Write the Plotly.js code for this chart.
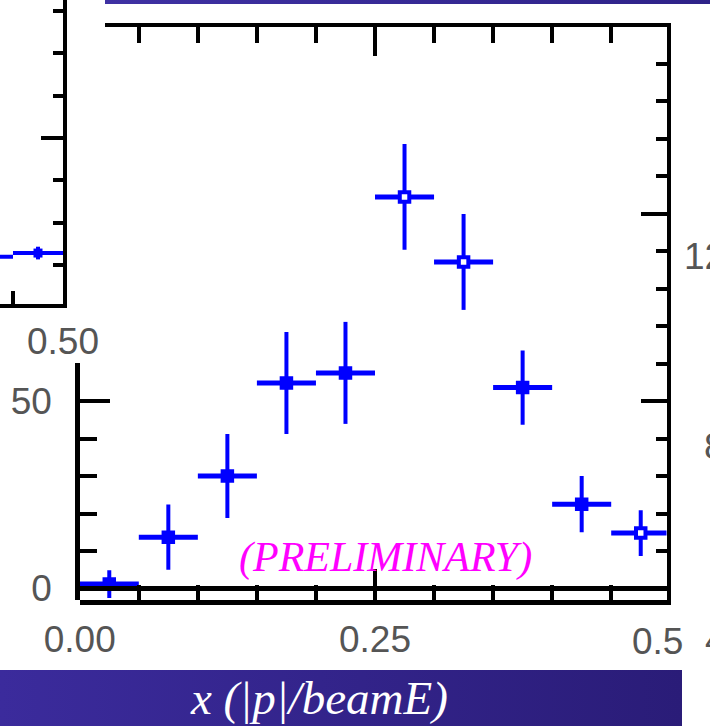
<!DOCTYPE html>
<html>
<head>
<meta charset="utf-8">
<script src="https://cdn.plot.ly/plotly-3.0.1.min.js"></script>
<style>html,body{margin:0;padding:0;background:#fff;}#chart{width:710px;height:726px;}</style>
</head>
<body>
<div id="chart"></div>
<script>
// ---- data ----
const binCenters   = [0.025, 0.075, 0.125, 0.175, 0.225, 0.275, 0.325, 0.375, 0.425, 0.475];
const binHalfWidth = 0.025;
const counts       = [1.2, 13.7, 30.0, 54.8, 57.5, 104.4, 87.1, 53.6, 22.5, 14.8];
const countErrors  = [3.7, 8.7, 11.2, 13.6, 13.6, 14.1, 12.8, 9.9, 7.5, 6.1];
const openMarkers  = [false, false, false, false, false, true, true, false, false, true];

// partial neighbouring panel (top-left)
const insetCenters = [0.425, 0.475];
const insetValues  = [71.9, 72.8];
const insetErrors  = [1.5, 1.5];

// tick labels
const xTickLabels      = ['0.00', '0.25', '0.5'];   // last one is half hidden in the source
const yTickValues      = [0, 50];
const yTickLabels      = ['0', '50'];
const insetTickLabel   = '0.50';
const rightPanelLabels = ['12', '8', '4'];

const xTitle = 'x (|p|/beamE)';
const stamp  = '(PRELIMINARY)';

// ---- styling helpers ----
const W = 710, H = 726;
const px = v => v / W;           // horizontal pixel -> paper
const py = v => (H - v) / H;     // vertical pixel (from top) -> paper
const BLUE = '#0000ff';
const tickFont = {family: 'Liberation Sans, Arial, sans-serif', size: 37, color: '#555'};

const traces = [
  {
    type: 'scatter', mode: 'markers', xaxis: 'x', yaxis: 'y',
    x: binCenters, y: counts,
    error_y: {type: 'data', array: countErrors, visible: true, color: BLUE, thickness: 4, width: 0},
    error_x: {type: 'constant', value: binHalfWidth, visible: true, color: BLUE, thickness: 5, width: 0},
    marker: {
      symbol: 'square', size: 9.5,
      color: openMarkers.map(o => o ? '#ffffff' : BLUE),
      line: {color: BLUE, width: 4}
    },
    hoverinfo: 'skip'
  },
  {
    type: 'scatter', mode: 'markers', xaxis: 'x2', yaxis: 'y2',
    x: insetCenters, y: insetValues,
    error_y: {type: 'data', array: insetErrors, visible: true, color: BLUE, thickness: 4, width: 0},
    error_x: {type: 'constant', value: binHalfWidth, visible: true, color: BLUE, thickness: 4, width: 0},
    marker: {symbol: 'square', size: 9, color: BLUE, line: {color: BLUE, width: 0}},
    hoverinfo: 'skip'
  },
  {type: 'scatter', mode: 'markers', x: [], y: [], xaxis: 'x3', yaxis: 'y', hoverinfo: 'skip'},
  {type: 'scatter', mode: 'markers', x: [], y: [], xaxis: 'x', yaxis: 'y3', hoverinfo: 'skip'}
];

const xLeft = 79.75, xRight = 666.5, pxPerX = 1181;
const yBottom = 600, yTop = 27, yZero = 588.5, pxPerY = 3.75;

const gradient = (c1, c2) => 'data:image/svg+xml;charset=utf-8,' + encodeURIComponent(
  '<svg xmlns="http://www.w3.org/2000/svg" width="100" height="10" viewBox="0 0 100 10" preserveAspectRatio="none">' +
  '<defs><linearGradient id="g" x1="0" x2="1" y1="0" y2="0"><stop offset="0" stop-color="' + c1 + '"/>' +
  '<stop offset="1" stop-color="' + c2 + '"/></linearGradient></defs><rect width="100" height="10" fill="url(#g)"/></svg>');

const layout = {
  width: W, height: H,
  margin: {l: 0, r: 0, t: 0, b: 0},
  paper_bgcolor: '#ffffff', plot_bgcolor: 'rgba(0,0,0,0)',
  showlegend: false,
  xaxis: {
    domain: [px(xLeft), px(xRight)], anchor: 'y', side: 'bottom',
    range: [0, (xRight - xLeft) / pxPerX],
    showline: true, linecolor: '#000', linewidth: 5, mirror: false,
    showgrid: false, zeroline: false,
    ticks: 'inside', tickcolor: '#000', tickwidth: 4, ticklen: 31,
    tickmode: 'array', tickvals: [0, 0.25], ticktext: xTickLabels.slice(0, 2),
    minor: {ticks: 'inside', dtick: 0.05, tick0: 0, ticklen: 15, tickwidth: 4, tickcolor: '#000', showgrid: false},
    tickfont: tickFont, ticklabelstandoff: 3
  },
  xaxis3: {
    domain: [px(105), px(xRight)], anchor: 'y', side: 'top',
    range: [(105 - xLeft) / pxPerX, (xRight - xLeft) / pxPerX],
    showline: true, linecolor: '#000', linewidth: 4,
    showgrid: false, zeroline: false, showticklabels: false,
    ticks: 'inside', tickcolor: '#000', tickwidth: 4, ticklen: 29, tick0: 0, dtick: 0.25,
    minor: {ticks: 'inside', dtick: 0.05, ticklen: 16, tickwidth: 4, tickcolor: '#000', showgrid: false}
  },
  yaxis: {
    domain: [py(yBottom), py(yTop)], anchor: 'x', side: 'right',
    range: [(yZero - yBottom) / pxPerY, (yZero - yTop) / pxPerY],
    showline: true, linecolor: '#000', linewidth: 4,
    showgrid: false, showticklabels: false,
    zeroline: true, zerolinecolor: '#000', zerolinewidth: 5,
    zerolinelayer: 'above traces',
    ticks: 'inside', tickcolor: '#000', tickwidth: 4, ticklen: 26, tick0: 0, dtick: 50,
    minor: {ticks: 'inside', dtick: 10, ticklen: 11, tickwidth: 4, tickcolor: '#000', showgrid: false}
  },
  yaxis3: {
    domain: [py(yBottom), py(363)], anchor: 'x', side: 'left',
    range: [(yZero - yBottom) / pxPerY, (yZero - 363) / pxPerY],
    showline: true, linecolor: '#000', linewidth: 4.5,
    showgrid: false, zeroline: false,
    ticks: 'inside', tickcolor: '#000', tickwidth: 4, ticklen: 30,
    tickmode: 'array', tickvals: yTickValues, ticktext: yTickLabels,
    minor: {ticks: 'inside', dtick: 10, ticklen: 17, tickwidth: 4, tickcolor: '#000', showgrid: false},
    tickfont: tickFont, ticklabelstandoff: 16
  },
  xaxis2: {
    domain: [0, px(63)], anchor: 'y2', side: 'bottom',
    range: [0.5 - 63 / 1000, 0.5],
    showline: true, linecolor: '#000', linewidth: 4,
    showgrid: false, zeroline: false,
    ticks: 'inside', tickcolor: '#000', tickwidth: 4, ticklen: 13,
    tickmode: 'array', tickvals: [0.45, 0.5], ticktext: ['', insetTickLabel],
    tickfont: tickFont, ticklabelstandoff: 2
  },
  yaxis2: {
    domain: [py(304), 1], anchor: 'x2', side: 'right',
    range: [100 - (304 - 138) / 4.23, 100 + 138 / 4.23],
    showline: true, linecolor: '#000', linewidth: 4,
    showgrid: false, zeroline: false, showticklabels: false,
    ticks: 'inside', tickcolor: '#000', tickwidth: 4, ticklen: 22, tick0: 0, dtick: 100,
    minor: {ticks: 'inside', dtick: 10, ticklen: 10, tickwidth: 4, tickcolor: '#000', showgrid: false}
  },
  images: [
    {source: gradient('#3b2b9c', '#2a1c78'), xref: 'paper', yref: 'paper',
     x: 0, y: py(670), sizex: px(682), sizey: 56 / H, sizing: 'stretch',
     xanchor: 'left', yanchor: 'top', layer: 'below'},
    {source: gradient('#3f31a3', '#2e2288'), xref: 'paper', yref: 'paper',
     x: px(105), y: 1, sizex: px(710 - 105), sizey: 4 / H, sizing: 'stretch',
     xanchor: 'left', yanchor: 'top', layer: 'above'}
  ],
  annotations: [
    {text: xTickLabels[2], xref: 'paper', yref: 'paper', x: px(630), y: py(641),
     xanchor: 'left', yanchor: 'middle', showarrow: false, font: tickFont},
    {text: stamp, xref: 'paper', yref: 'paper', x: px(385), y: py(557),
     xanchor: 'center', yanchor: 'middle', showarrow: false,
     font: {family: 'Liberation Serif, Times New Roman, serif', size: 42, color: '#ff00ff', style: 'italic'}},
    {text: xTitle, xref: 'paper', yref: 'paper', x: px(319), y: py(698),
     xanchor: 'center', yanchor: 'middle', showarrow: false,
     font: {family: 'Liberation Serif, Times New Roman, serif', size: 47, color: '#ffffff', style: 'italic'}},
    {text: rightPanelLabels[0], xref: 'paper', yref: 'paper', x: px(682), y: py(256),
     xanchor: 'left', yanchor: 'middle', showarrow: false, font: tickFont},
    {text: rightPanelLabels[1], xref: 'paper', yref: 'paper', x: px(702), y: py(446),
     xanchor: 'left', yanchor: 'middle', showarrow: false, font: tickFont},
    {text: rightPanelLabels[2], xref: 'paper', yref: 'paper', x: px(703), y: py(640),
     xanchor: 'left', yanchor: 'middle', showarrow: false, font: tickFont}
  ]
};

Plotly.newPlot('chart', traces, layout, {staticPlot: true, displayModeBar: false});
</script>
</body>
</html>
